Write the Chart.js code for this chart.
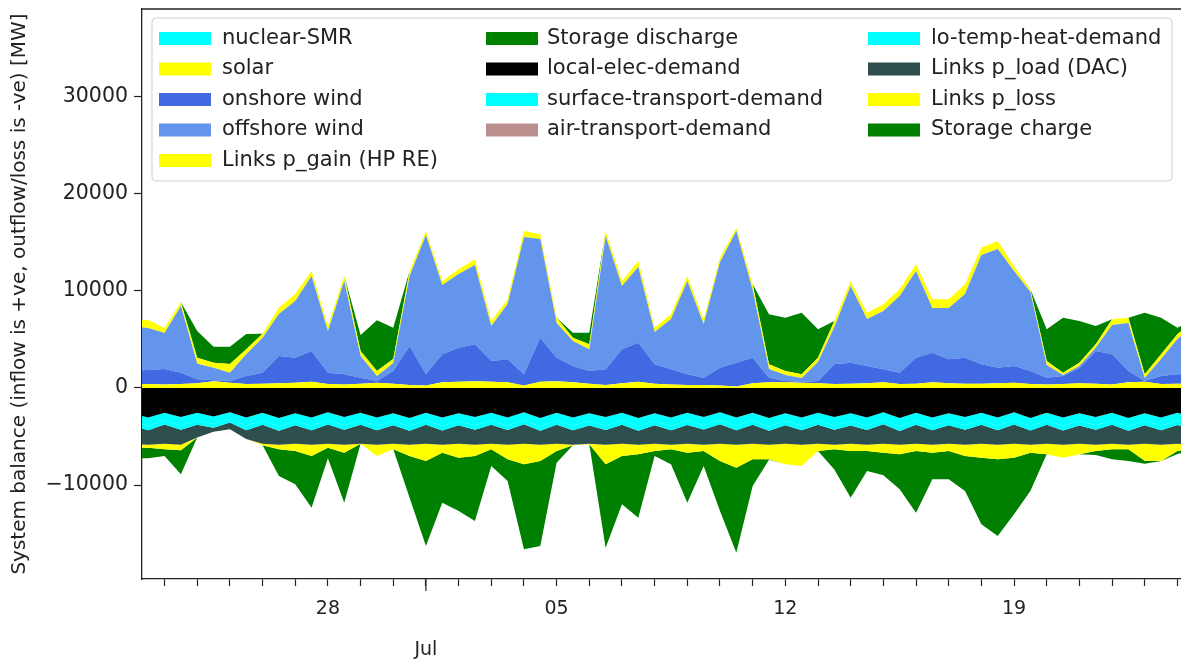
<!DOCTYPE html>
<html>
<head>
<meta charset="utf-8">
<title>System balance</title>
<script src="https://cdn.jsdelivr.net/npm/chart.js@4.4.1/dist/chart.umd.min.js"></script>
<style>
  html, body { margin: 0; padding: 0; background: #ffffff; }
  #wrap { width: 1181px; height: 660px; position: relative; }
</style>
</head>
<body>
<div id="wrap"><canvas id="balance" width="1181" height="660"></canvas></div>
<script>
// Time stamps: day offsets counted from 1 June (0 = 1 Jun), 12-hourly samples
const days = [21.0,21.5,22.0,22.5,23.0,23.5,24.0,24.5,25.0,25.5,
  26.0,26.5,27.0,27.5,28.0,28.5,29.0,29.5,30.0,30.5,
  31.0,31.5,32.0,32.5,33.0,33.5,34.0,34.5,35.0,35.5,
  36.0,36.5,37.0,37.5,38.0,38.5,39.0,39.5,40.0,40.5,
  41.0,41.5,42.0,42.5,43.0,43.5,44.0,44.5,45.0,45.5,
  46.0,46.5,47.0,47.5,48.0,48.5,49.0,49.5,50.0,50.5,
  51.0,51.5,52.0,52.5,53.0,53.5];

// Inflows (MW)
const nuclearSMR = [0,0,0,0,0,0,0,0,0,0, 0,0,0,0,0,0,0,0,0,0, 0,0,0,0,0,0,0,0,0,0,
  0,0,0,0,0,0,0,0,0,0, 0,0,0,0,0,0,0,0,0,0, 0,0,0,0,0,0,0,0,0,0, 0,0,0,0,0,0];
const solar = [350,400,350,400,500,700,550,400,450,500, 550,650,400,350,450,550,450,300,250,600,
  650,700,650,600,250,650,700,600,450,300, 500,650,450,350,300,300,250,150,500,600,
  600,550,500,400,450,500,600,400,450,600, 500,450,450,500,550,400,350,400,500,450,
  350,600,650,400,450,400];
const onshoreWind = [1450,1460,1610,1180,400,100,170,840,1130,2800, 2570,3160,1180,1060,610,170,1300,4030,1160,2870,
  3500,3800,2130,2360,1160,4540,2420,1670,1300,1630, 3500,4020,1990,1580,1110,760,1840,2460,2620,460,
  120,70,220,2040,2160,1770,1330,1180,2670,3040, 2460,2670,1990,1590,1720,1350,710,840,1560,3360,
  3120,1150,70,840,960,1100];
const offshoreWind = [4500,4330,3710,6870,1600,1290,860,2230,3610,4330, 5850,7740,4300,9620,2240,520,830,7220,14360,7150,
  7600,8180,3610,5700,14160,10170,3580,2580,2240,13740, 6520,7810,3330,5180,9620,5540,10900,13580,6980,900,
  620,410,1960,3850,7910,4840,6010,7910,8940,4610, 5290,6570,11270,12240,9790,8150,1310,100,210,340,
  3030,4950,310,1750,3640,5000];
const linksGainHP = [800,820,520,400,620,520,890,520,410,650, 720,510,510,520,510,510,410,510,420,410,
  490,590,520,490,620,490,550,340,510,520, 510,610,450,490,520,480,440,340,590,480,
  410,380,440,620,510,650,690,690,690,900, 900,1000,750,830,520,280,410,240,340,350,
  580,550,380,480,490,500];
const storageDischarge = [0,0,0,0,2760,1650,1790,1580,0,0, 0,0,0,0,1650,5230,3230,0,0,0,
  0,0,0,0,0,0,0,510,1200,0, 0,0,0,0,0,0,0,0,0,5160,
  5500,6350,2930,0,0,0,0,0,0,0, 0,0,0,0,0,0,3270,5670,4300,1890,
  0,0,6350,3780,680,0];

// Outflows and losses (MW, negative)
const localElecDemand = [-2600,-3050,-2550,-3000,-2550,-2950,-2500,-3050,-2550,-3100,
  -2600,-3050,-2500,-3000,-2550,-3050,-2600,-3100,-2550,-3050,
  -2600,-3000,-2550,-3050,-2500,-3100,-2550,-3050,-2600,-3000,
  -2550,-3100,-2600,-3050,-2550,-3000,-2500,-3050,-2550,-3100,
  -2600,-3050,-2550,-3000,-2600,-3050,-2500,-3100,-2550,-3050,
  -2600,-3000,-2550,-3050,-2500,-3100,-2550,-3050,-2600,-3000,
  -2550,-3100,-2600,-3050,-2550,-3000];
const surfaceTransportDemand = [-800,-850,-780,-860,-800,-750,-700,-850,-790,-870,
  -800,-840,-810,-850,-790,-860,-800,-850,-780,-870,
  -810,-850,-800,-840,-790,-860,-800,-850,-810,-870,
  -800,-850,-790,-860,-800,-840,-780,-850,-800,-870,
  -810,-850,-790,-860,-800,-850,-780,-870,-800,-850,
  -810,-840,-790,-860,-800,-850,-780,-870,-810,-850,
  -800,-860,-790,-850,-800,-850];
const airTransportDemand = [0,0,0,0,0,0,0,0,0,0, 0,0,0,0,0,0,0,0,0,0, 0,0,0,0,0,0,0,0,0,0,
  0,0,0,0,0,0,0,0,0,0, 0,0,0,0,0,0,0,0,0,0, 0,0,0,0,0,0,0,0,0,0, 0,0,0,0,0,0];
const loTempHeatDemand = [-450,-460,-440,-450,-450,-400,-350,-450,-460,-450,
  -440,-460,-450,-450,-460,-440,-450,-460,-450,-450,
  -440,-460,-450,-450,-460,-440,-450,-460,-450,-450,
  -440,-460,-450,-450,-460,-440,-450,-460,-450,-450,
  -440,-460,-450,-450,-460,-440,-450,-460,-450,-450,
  -440,-460,-450,-450,-460,-440,-450,-460,-450,-450,
  -440,-460,-450,-450,-460,-440];
const linksLoadDAC = [-1900,-1490,-1980,-1540,-1300,-400,-700,-910,-1950,-1430,
  -1910,-1500,-1990,-1550,-1950,-1500,-1900,-1440,-1970,-1480,
  -1900,-1540,-1950,-1510,-2000,-1450,-1950,-1490,-1890,-1530,
  -1960,-1440,-1910,-1490,-1940,-1570,-2020,-1490,-1950,-1430,
  -1900,-1490,-1960,-1540,-1890,-1510,-2020,-1420,-1950,-1500,
  -1900,-1550,-1960,-1490,-1990,-1460,-1970,-1470,-1890,-1550,
  -1960,-1430,-1910,-1500,-1940,-1560];
const linksLoss = [-450,-300,-570,-570,0,0,0,0,-150,-470,
  -750,-1160,-400,-820,0,-1160,-570,-1160,-1780,-820,
  -1430,-1160,-570,-1500,-2120,-1680,-750,-50,-50,-2020,
  -1260,-990,-750,-470,-920,-650,-1780,-2370,-1600,-1500,
  -2120,-2190,-750,-470,-750,-650,-920,-990,-750,-820,
  -750,-1160,-1430,-1500,-1430,-820,-1090,-1330,-1090,-650,
  -570,-470,-1750,-1680,-750,-350];
const storageCharge = [-1000,-1100,-680,-2480,0,0,0,0,0,-2750,
  -3430,-5330,-1100,-5160,0,0,0,-4300,-8760,-5160,
  -5500,-6700,-1720,-2240,-8760,-8760,-1200,0,0,-8590,
  -4980,-6530,-510,-1550,-5160,-1540,-5150,-8760,-2750,-50,
  0,0,0,-2080,-4810,-2060,-2330,-3610,-6360,-2740,
  -2910,-3610,-6870,-7910,-5840,-3950,0,0,0,-400,
  -1030,-1210,-300,0,-300,-300];

// Axis ticks
const dayTicks = [22,23,24,25,26,27,28,29,30,31,32,33,34,35,36,37,38,39,40,41,42,43,44,45,46,47,48,49,50,51,52,53];
const labelledDays = [27, 34, 41, 48];
const dayTickLabels = ['28', '05', '12', '19'];
const monthDay = 30;          // 1 July
const monthLabel = 'Jul';
const yTickValues = [-10000, 0, 10000, 20000, 30000];
const yTickLabels = ['\u221210000', '0', '10000', '20000', '30000'];
const yTitle = 'System balance (inflow is +ve, outflow/loss is -ve) [MW]';

const CYAN = '#00ffff', YELLOW = '#ffff00', GREEN = '#008000';

// [label, values, colour, stack group]
const layers = [
  ['nuclear-SMR', nuclearSMR, CYAN, 'in'],
  ['solar', solar, YELLOW, 'in'],
  ['onshore wind', onshoreWind, '#4169e1', 'in'],
  ['offshore wind', offshoreWind, '#6495ed', 'in'],
  ['Links p_gain (HP RE)', linksGainHP, YELLOW, 'in'],
  ['Storage discharge', storageDischarge, GREEN, 'in'],
  ['local-elec-demand', localElecDemand, '#000000', 'out'],
  ['surface-transport-demand', surfaceTransportDemand, CYAN, 'out'],
  ['air-transport-demand', airTransportDemand, '#bc8f8f', 'out'],
  ['lo-temp-heat-demand', loTempHeatDemand, CYAN, 'out'],
  ['Links p_load (DAC)', linksLoadDAC, '#2f4f4f', 'out'],
  ['Links p_loss', linksLoss, YELLOW, 'out'],
  ['Storage charge', storageCharge, GREEN, 'out']
];

const datasets = layers.map(([label, values, colour, stack], i) => ({
  label,
  data: days.map((d, k) => ({ x: d, y: values[k] })),
  backgroundColor: colour,
  borderColor: colour,
  borderWidth: 0,
  pointRadius: 0,
  pointHoverRadius: 0,
  tension: 0,
  stack,
  fill: (i === 0 || layers[i - 1][3] !== stack) ? 'origin' : '-1'
}));

const TEXT = '#222222';
const FONT = "'DejaVu Sans', sans-serif";

// Frame top line, long month tick, month name and the three-column legend
const decorations = {
  id: 'decorations',
  afterDraw(chart) {
    const { ctx, chartArea } = chart;
    const xs = chart.scales.x;
    ctx.save();
    ctx.strokeStyle = TEXT;
    ctx.lineWidth = 1.3;
    ctx.beginPath();
    ctx.moveTo(chartArea.left, chartArea.top);
    ctx.lineTo(chartArea.right, chartArea.top);
    ctx.stroke();

    const mx = xs.getPixelForValue(monthDay);
    ctx.lineWidth = 1.2;
    ctx.beginPath();
    ctx.moveTo(mx, chartArea.bottom);
    ctx.lineTo(mx, chartArea.bottom + 12);
    ctx.stroke();

    ctx.fillStyle = TEXT;
    ctx.font = "19px " + FONT;
    ctx.textAlign = 'center';
    ctx.textBaseline = 'middle';
    ctx.fillText(monthLabel, mx, 650);

    // legend
    const box = { l: 152, t: 18, r: 1172, b: 181 };
    ctx.beginPath();
    ctx.roundRect(box.l, box.t, box.r - box.l, box.b - box.t, 4);
    ctx.fillStyle = 'rgba(255,255,255,0.85)';
    ctx.fill();
    ctx.strokeStyle = '#d0d0d0';
    ctx.lineWidth = 1;
    ctx.stroke();

    const cols = [
      { patch: 159, text: 222, items: [0, 1, 2, 3, 4] },
      { patch: 486, text: 547, items: [5, 6, 7, 8] },
      { patch: 868, text: 931, items: [9, 10, 11, 12] }
    ];
    const rowY = [38.5, 69, 99.5, 130, 160.5];
    ctx.font = "21px " + FONT;
    ctx.textAlign = 'left';
    cols.forEach(col => {
      col.items.forEach((idx, r) => {
        const y = rowY[r];
        ctx.fillStyle = layers[idx][2];
        ctx.fillRect(col.patch, y - 6.5, 52, 13);
        ctx.fillStyle = TEXT;
        ctx.fillText(layers[idx][0], col.text, y);
      });
    });
    ctx.restore();
  }
};

new Chart(document.getElementById('balance'), {
  type: 'line',
  data: { datasets },
  plugins: [decorations],
  options: {
    responsive: false,
    animation: false,
    events: [],
    layout: { padding: { top: 9, right: 0, bottom: 0, left: 0 } },
    plugins: { legend: { display: false }, tooltip: { enabled: false } },
    elements: { line: { borderWidth: 0 } },
    scales: {
      x: {
        type: 'linear',
        min: 21.31,
        max: 53.11,
        grid: { display: true, drawOnChartArea: false, drawTicks: true, tickLength: 7, tickColor: TEXT, tickWidth: 1.2 },
        border: { display: true, color: TEXT, width: 1.3 },
        ticks: {
          autoSkip: false, maxRotation: 0, minRotation: 0, padding: 12, color: TEXT,
          font: { family: FONT, size: 19 },
          callback: (v) => { const k = labelledDays.indexOf(v); return k >= 0 ? dayTickLabels[k] : ''; }
        },
        afterBuildTicks: (s) => { s.ticks = dayTicks.map(v => ({ value: v })); },
        afterFit: (s) => { s.height = 81; s.paddingLeft = 0; s.paddingRight = 0; }
      },
      y: {
        type: 'linear',
        stacked: true,
        min: -19690,
        max: 39070,
        grid: { display: true, drawOnChartArea: false, drawTicks: true, tickLength: 8, tickColor: TEXT, tickWidth: 1.2 },
        border: { display: true, color: TEXT, width: 1.3 },
        ticks: {
          padding: 6, color: TEXT,
          font: { family: FONT, size: 20.5 },
          callback: (v) => { const k = yTickValues.indexOf(v); return k >= 0 ? yTickLabels[k] : ''; }
        },
        title: { display: true, text: yTitle, color: TEXT, font: { family: FONT, size: 20 }, padding: { top: 8, bottom: 0 } },
        afterBuildTicks: (s) => { s.ticks = yTickValues.map(v => ({ value: v })); },
        afterFit: (s) => { s.width = 142; s.paddingTop = 0; s.paddingBottom = 0; }
      }
    }
  }
});
</script>
</body>
</html>
